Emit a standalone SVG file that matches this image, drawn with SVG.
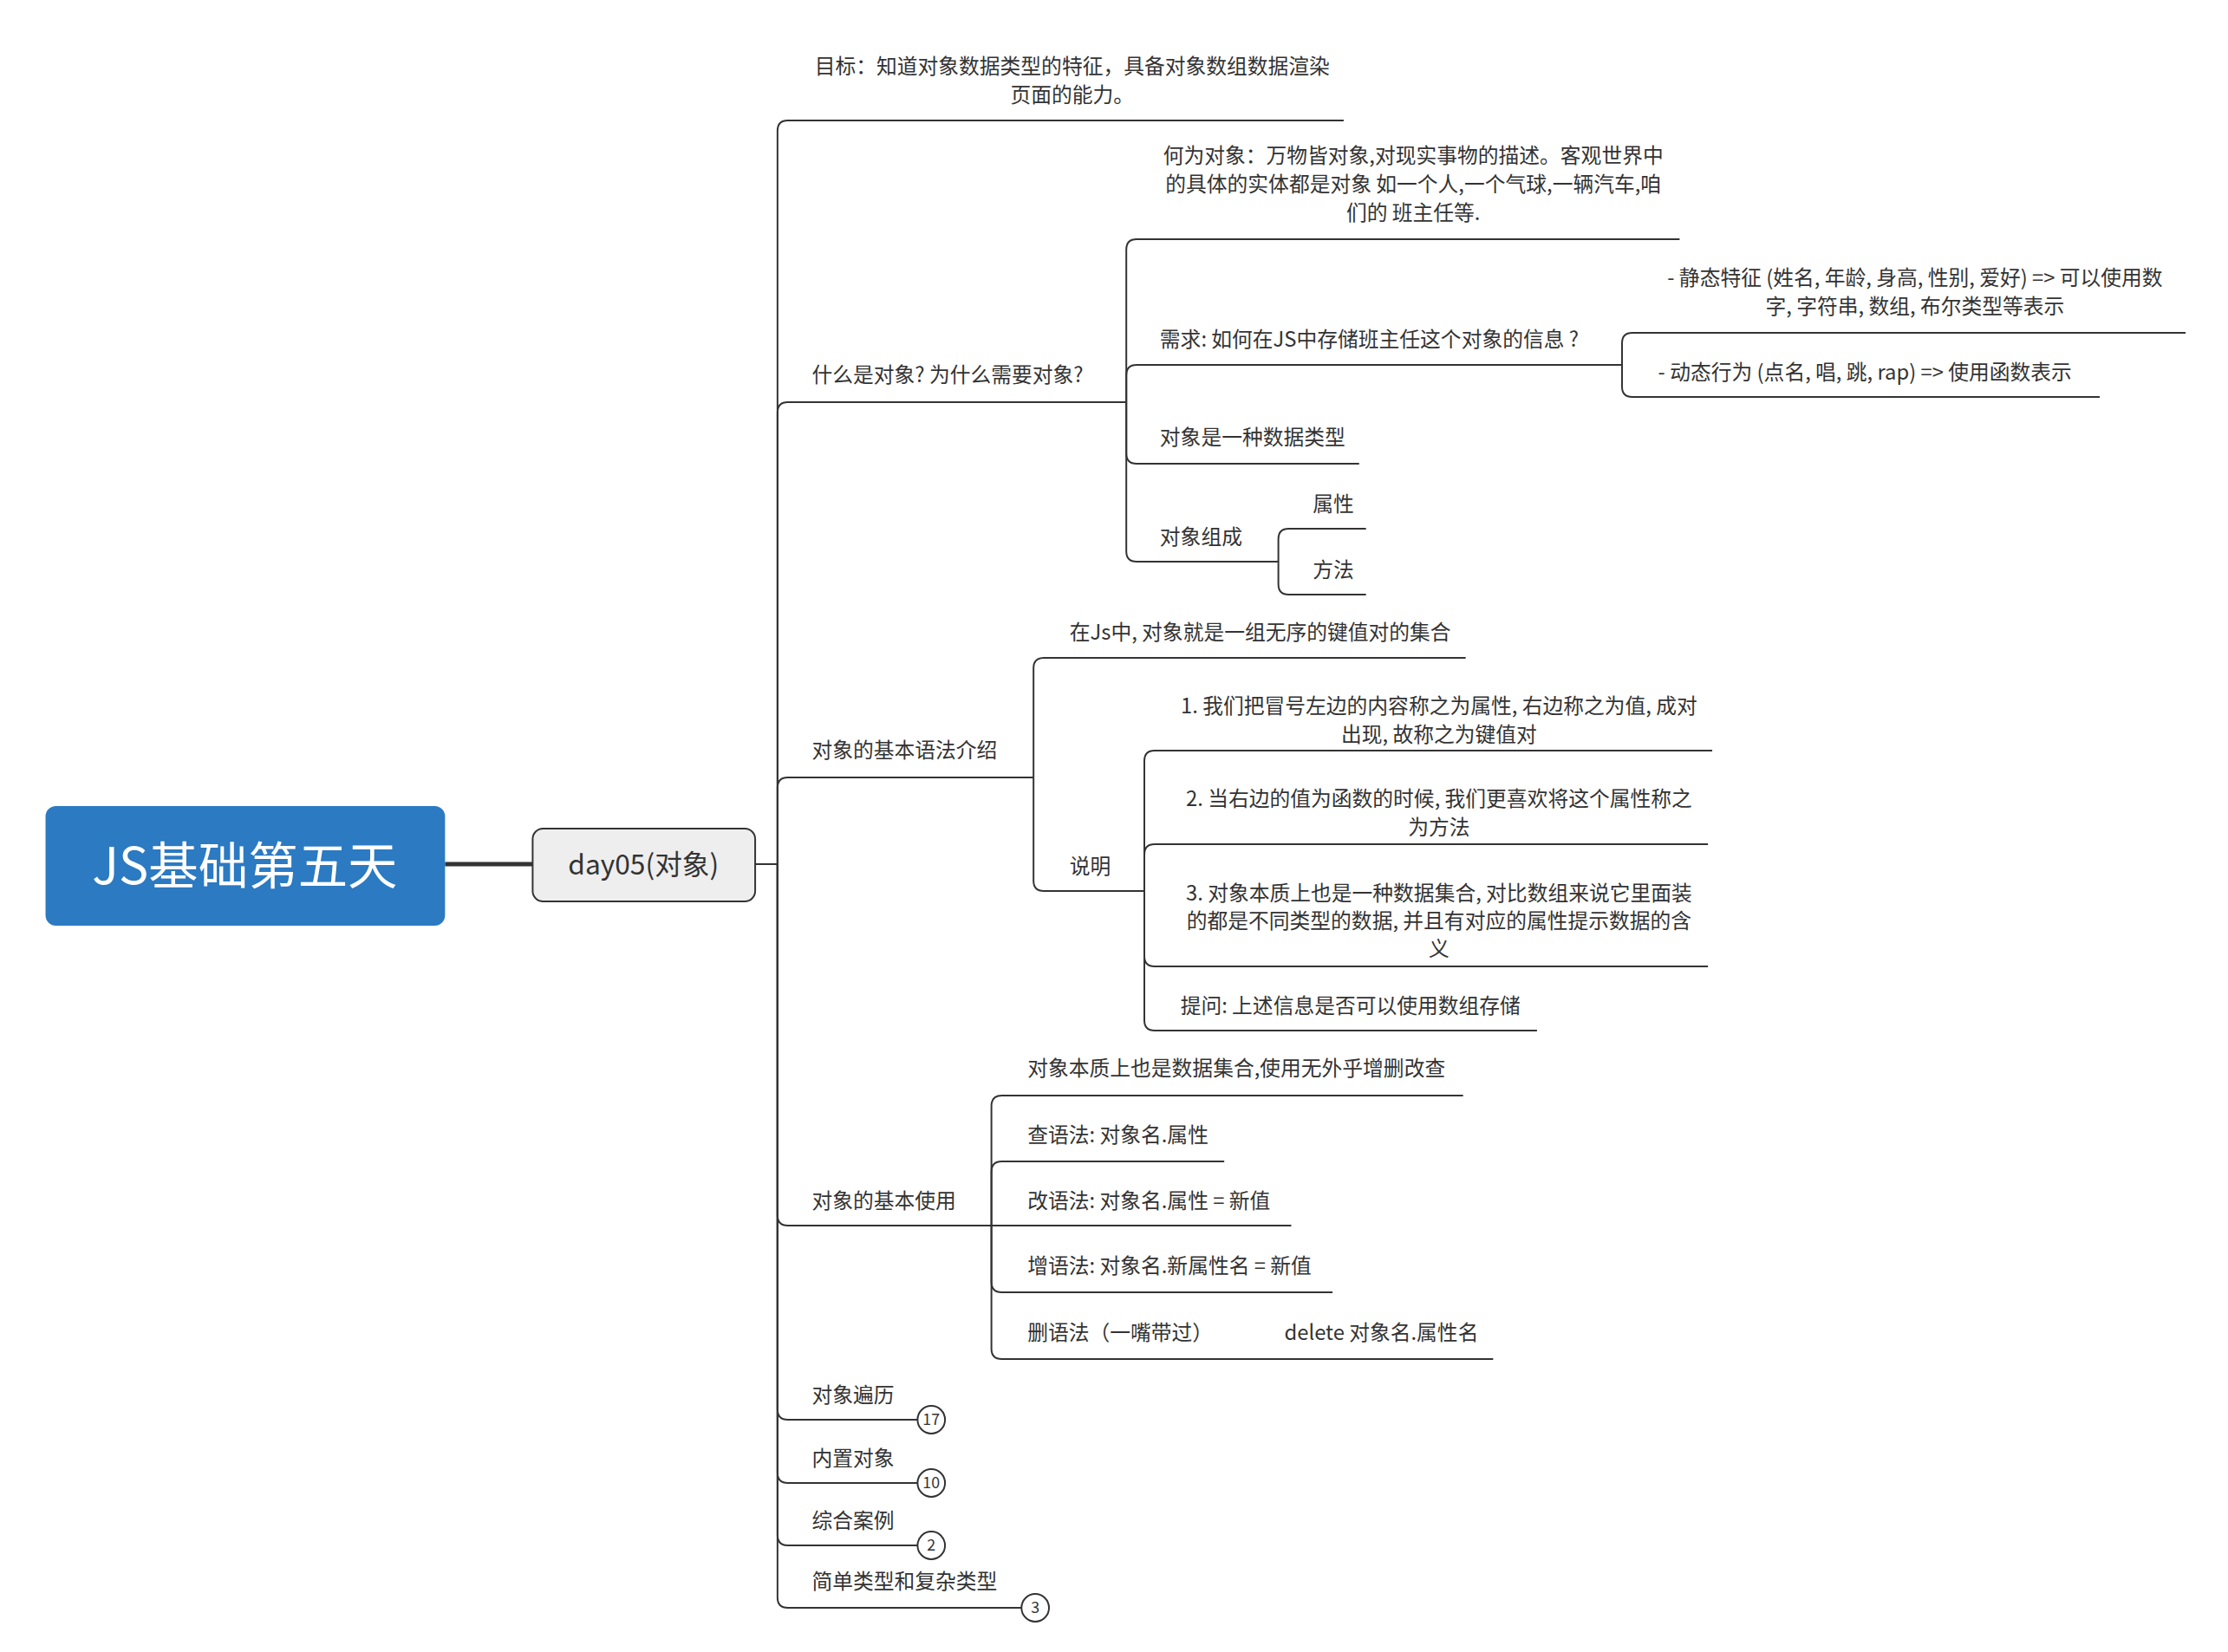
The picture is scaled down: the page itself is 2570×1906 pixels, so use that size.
<svg xmlns="http://www.w3.org/2000/svg" width="2570" height="1906" viewBox="0 0 2570 1906">
<style>
text{font-family:"Noto Sans CJK SC","Noto Sans",sans-serif;font-size:24px;fill:#333}
.c{text-anchor:middle}
.l{fill:none;stroke:#333;stroke-width:2}
.b{fill:#fff;stroke:#333;stroke-width:2}
.bt{font-size:18px;text-anchor:middle}
</style>
<rect width="2570" height="1906" fill="#fff"/>
<g transform="matrix(0.991 0 0 1 0 0)">
<g id="connectors">
<line x1="518" y1="997" x2="620" y2="997" stroke="#333" stroke-width="5"/>
<line x1="879" y1="997" x2="905" y2="997" class="l"/>
<path class="l" d="M905 997V151Q905 139 917 139H1564"/>
<path class="l" d="M905 997V476Q905 464 917 464H1311"/>
<path class="l" d="M905 997V909Q905 897 917 897H1203"/>
<path class="l" d="M905 997V1402Q905 1414 917 1414H1154"/>
<path class="l" d="M905 997V1626Q905 1638 917 1638H1068"/>
<path class="l" d="M905 997V1699Q905 1711 917 1711H1068"/>
<path class="l" d="M905 997V1771Q905 1783 917 1783H1068"/>
<path class="l" d="M905 997V1843Q905 1855 917 1855H1189"/>
<path class="l" d="M1311 464V288Q1311 276 1323 276H1955"/>
<path class="l" d="M1311 464V433Q1311 421 1323 421H1888"/>
<path class="l" d="M1311 464V523Q1311 535 1323 535H1582"/>
<path class="l" d="M1311 464V636Q1311 648 1323 648H1488"/>
<path class="l" d="M1888 421V396Q1888 384 1900 384H2544"/>
<path class="l" d="M1888 421V446Q1888 458 1900 458H2444"/>
<path class="l" d="M1488 648V622Q1488 610 1500 610H1590"/>
<path class="l" d="M1488 648V674Q1488 686 1500 686H1590"/>
<path class="l" d="M1203 897V771Q1203 759 1215 759H1706"/>
<path class="l" d="M1203 897V1016Q1203 1028 1215 1028H1332"/>
<path class="l" d="M1332 1028V878Q1332 866 1344 866H1993"/>
<path class="l" d="M1332 1028V986Q1332 974 1344 974H1988"/>
<path class="l" d="M1332 1028V1103Q1332 1115 1344 1115H1988"/>
<path class="l" d="M1332 1028V1177Q1332 1189 1344 1189H1789"/>
<path class="l" d="M1154 1414V1276Q1154 1264 1166 1264H1703"/>
<path class="l" d="M1154 1414V1352Q1154 1340 1166 1340H1425"/>
<path class="l" d="M1154 1414H1503"/>
<path class="l" d="M1154 1414V1479Q1154 1491 1166 1491H1551"/>
<path class="l" d="M1154 1414V1556Q1154 1568 1166 1568H1738"/>
</g>
<g id="root"><rect x="53" y="930" width="465" height="138" rx="12" fill="#2b7ac2"/><text x="285" y="1020" class="c" style="font-size:58px;fill:#fff">JS基础第五天</text></g>
<g id="day05"><rect x="620" y="956" width="259" height="84" rx="12" fill="#eeeeee" stroke="#333" stroke-width="2"/><text x="749" y="1009" class="c" style="font-size:32px">day05(对象)</text></g>
<g id="goal"><text x="1248" y="85" class="c">目标：知道对象数据类型的特征，具备对象数组数据渲染</text><text x="1248" y="118" class="c">页面的能力。</text></g>
<g id="what"><text x="945" y="441">什么是对象? 为什么需要对象?</text></g>
<g id="hewei"><text x="1645" y="188" class="c">何为对象：万物皆对象,对现实事物的描述。客观世界中</text><text x="1645" y="221" class="c">的具体的实体都是对象 如一个人,一个气球,一辆汽车,咱</text><text x="1645" y="254" class="c">们的 班主任等.</text></g>
<g id="xuqiu"><text x="1350" y="400">需求: 如何在JS中存储班主任这个对象的信息 ?</text></g>
<g id="static"><text x="2229" y="329" class="c">- 静态特征 (姓名, 年龄, 身高, 性别, 爱好) =&gt; 可以使用数</text><text x="2229" y="362" class="c">字, 字符串, 数组, 布尔类型等表示</text></g>
<g id="dynamic"><text x="1930" y="438">- 动态行为 (点名, 唱, 跳, rap) =&gt; 使用函数表示</text></g>
<g id="datatype"><text x="1350" y="513">对象是一种数据类型</text></g>
<g id="zucheng"><text x="1350" y="628">对象组成</text></g>
<g id="shuxing"><text x="1528" y="590">属性</text></g>
<g id="fangfa"><text x="1528" y="666">方法</text></g>
<g id="syntax"><text x="945" y="874">对象的基本语法介绍</text></g>
<g id="injs"><text x="1245" y="738">在Js中, 对象就是一组无序的键值对的集合</text></g>
<g id="shuoming"><text x="1245" y="1008">说明</text></g>
<g id="s1"><text x="1675" y="823" class="c">1. 我们把冒号左边的内容称之为属性, 右边称之为值, 成对</text><text x="1675" y="856" class="c">出现, 故称之为键值对</text></g>
<g id="s2"><text x="1675" y="930" class="c">2. 当右边的值为函数的时候, 我们更喜欢将这个属性称之</text><text x="1675" y="963" class="c">为方法</text></g>
<g id="s3"><text x="1675" y="1039" class="c">3. 对象本质上也是一种数据集合, 对比数组来说它里面装</text><text x="1675" y="1071" class="c">的都是不同类型的数据, 并且有对应的属性提示数据的含</text><text x="1675" y="1103" class="c">义</text></g>
<g id="tiwen"><text x="1374" y="1169">提问: 上述信息是否可以使用数组存储</text></g>
<g id="use"><text x="945" y="1394">对象的基本使用</text></g>
<g id="u0"><text x="1196" y="1241">对象本质上也是数据集合,使用无外乎增删改查</text></g>
<g id="u1"><text x="1196" y="1318">查语法: 对象名.属性</text></g>
<g id="u2"><text x="1196" y="1394">改语法: 对象名.属性 = 新值</text></g>
<g id="u3"><text x="1196" y="1469">增语法: 对象名.新属性名 = 新值</text></g>
<g id="u4"><text x="1196" y="1546">删语法（一嘴带过）</text><text x="1495" y="1546">delete 对象名.属性名</text></g>
<g id="bianli"><text x="945" y="1618">对象遍历</text><circle cx="1084" cy="1638" r="16" class="b"/><text x="1084" y="1644" class="bt">17</text></g>
<g id="neizhi"><text x="945" y="1691">内置对象</text><circle cx="1084" cy="1711" r="16" class="b"/><text x="1084" y="1717" class="bt">10</text></g>
<g id="zonghe"><text x="945" y="1763">综合案例</text><circle cx="1084" cy="1783" r="16" class="b"/><text x="1084" y="1789" class="bt">2</text></g>
<g id="leixing"><text x="945" y="1833">简单类型和复杂类型</text><circle cx="1205" cy="1855" r="16" class="b"/><text x="1205" y="1861" class="bt">3</text></g>
</g>
</svg>
